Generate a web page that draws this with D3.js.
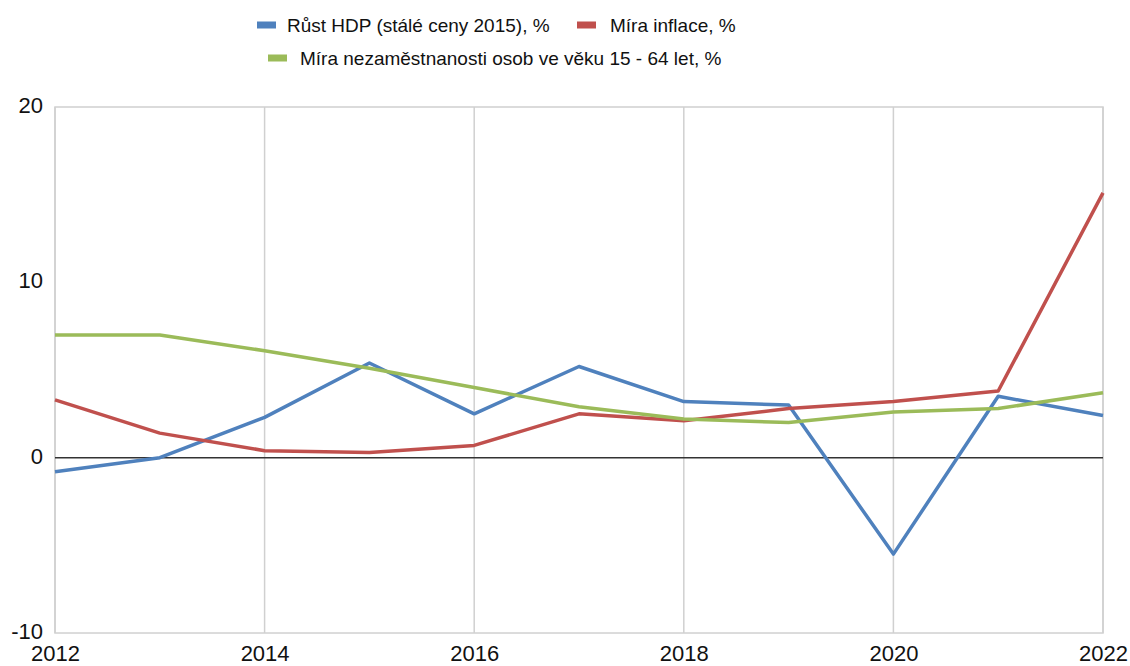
<!DOCTYPE html>
<html>
<head>
<meta charset="utf-8">
<script src="https://cdn.jsdelivr.net/npm/d3@7"></script>
<style>
  body { margin: 0; background: #fff; }
  svg { display: block; font-family: "Liberation Sans", Arial, sans-serif; }
</style>
</head>
<body>
<svg id="chart"></svg>
<script>
// data
const years = [2012, 2013, 2014, 2015, 2016, 2017, 2018, 2019, 2020, 2021, 2022];
const hdp = [-0.8, 0.0, 2.3, 5.4, 2.5, 5.2, 3.2, 3.0, -5.5, 3.5, 2.4];
const inflace = [3.3, 1.4, 0.4, 0.3, 0.7, 2.5, 2.1, 2.8, 3.2, 3.8, 15.1];
const nezam = [7.0, 7.0, 6.1, 5.1, 4.0, 2.9, 2.2, 2.0, 2.6, 2.8, 3.7];
const seriesNames = ["Růst HDP (stálé ceny 2015), %", "Míra inflace, %", "Míra nezaměstnanosti osob ve věku 15 - 64 let, %"];
const xTicks = [2012, 2014, 2016, 2018, 2020, 2022];
const yTicks = [-10, 0, 10, 20];

const width = 1130, height = 666;
const marginTop = 107, marginRight = 27, marginBottom = 33, marginLeft = 55;
const colors = ["#4f81bd", "#c0504d", "#9bbb59"];

const svg = d3.select("#chart")
    .attr("width", width)
    .attr("height", height)
    .attr("viewBox", [0, 0, width, height]);

const x = d3.scaleLinear([2012, 2022], [marginLeft, width - marginRight]);
const y = d3.scaleLinear([-10, 20], [height - marginBottom, marginTop]);

// vertical gridlines
svg.append("g")
    .attr("stroke", "#d0d0d0")
    .attr("stroke-width", 1.5)
  .selectAll("line")
  .data(xTicks)
  .join("line")
    .attr("x1", d => x(d)).attr("x2", d => x(d))
    .attr("y1", y(20)).attr("y2", y(-10));

// frame
svg.append("rect")
    .attr("x", x(2012)).attr("y", y(20))
    .attr("width", x(2022) - x(2012))
    .attr("height", y(-10) - y(20))
    .attr("fill", "none")
    .attr("stroke", "#d0d0d0")
    .attr("stroke-width", 1.5);

// zero line
svg.append("line")
    .attr("x1", x(2012)).attr("x2", x(2022))
    .attr("y1", y(0)).attr("y2", y(0))
    .attr("stroke", "#333")
    .attr("stroke-width", 1.5);

// axes
const yAxis = d3.axisLeft(y).tickValues(yTicks).tickFormat(d => String(d)).tickSize(0).tickPadding(12);
svg.append("g")
    .attr("transform", `translate(${marginLeft},0)`)
    .call(yAxis)
    .call(g => g.select(".domain").remove())
    .call(g => g.selectAll("text")
        .attr("font-size", 22)
        .attr("fill", "#111")
        .attr("font-family", "Liberation Sans, Arial, sans-serif")
        .attr("dy", "0.25em"));

const xAxis = d3.axisBottom(x).tickValues(xTicks).tickFormat(d3.format("d")).tickSize(0).tickPadding(12);
svg.append("g")
    .attr("transform", `translate(0,${height - marginBottom})`)
    .call(xAxis)
    .call(g => g.select(".domain").remove())
    .call(g => g.selectAll("text")
        .attr("font-size", 22)
        .attr("fill", "#111")
        .attr("font-family", "Liberation Sans, Arial, sans-serif"));

// lines
const line = d3.line().x((d, i) => x(years[i])).y(d => y(d));
[hdp, inflace, nezam].forEach((s, k) => {
  svg.append("path")
      .datum(s)
      .attr("fill", "none")
      .attr("stroke", colors[k])
      .attr("stroke-width", 3.5)
      .attr("stroke-linejoin", "round")
      .attr("d", line);
});

// legend
const legendItems = [
  {name: seriesNames[0], color: colors[0], sx: 257, tx: 287, y: 25},
  {name: seriesNames[1], color: colors[1], sx: 577, tx: 610, y: 25},
  {name: seriesNames[2], color: colors[2], sx: 268, tx: 300, y: 58}
];
const legend = svg.append("g").selectAll("g").data(legendItems).join("g");
legend.append("rect")
    .attr("x", d => d.sx).attr("y", d => d.y - 3.5)
    .attr("width", 19).attr("height", 7)
    .attr("fill", d => d.color);
legend.append("text")
    .attr("x", d => d.tx).attr("y", d => d.y)
    .attr("dy", "0.35em")
    .attr("font-size", 19)
    .attr("fill", "#111")
    .text(d => d.name);
</script>
</body>
</html>
